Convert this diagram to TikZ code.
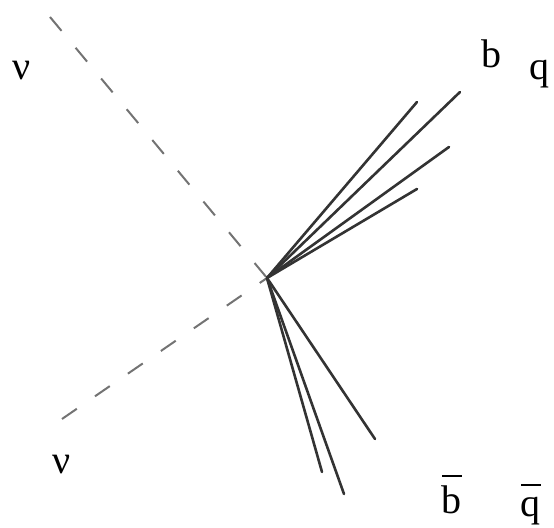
\documentclass[tikz,border=0pt]{standalone}
\usepackage{fontspec}
\setmainfont{Liberation Serif}
\usetikzlibrary{positioning}

% letter with a raised bar over it: {letter}{raise}{bar width}
\newcommand\barletter[3]{\leavevmode\rlap{\hspace{.01em}\rule[#2]{#3}{.055em}}#1}

\begin{document}
\begin{tikzpicture}[x=0.5pt, y=-0.5pt,
  jet/.style={line width=1.3pt, draw=black!80, line cap=round},
  nuline/.style={line width=1pt, draw=black!55, dash pattern=on 9pt off 11pt},
  lbl/.style={font=\fontsize{20}{24}\selectfont, inner sep=0pt, anchor=base}]

  \useasboundingbox (0,0) rectangle (554,528);

  % decay vertex
  \coordinate (vtx) at (267,278);

  % neutrino directions (dashed)
  \coordinate (nu1) at (50,17);
  \coordinate (nu2) at (62,419);
  \draw[nuline] (nu1) -- (vtx);
  \draw[nuline] (nu2) -- (vtx);

  % b / q jets, upward
  \coordinate (j1) at (417,102);
  \coordinate (j2) at (460,92);
  \coordinate (j3) at (449,147);
  \coordinate (j4) at (417,189);
  \foreach \j in {j1,j2,j3,j4}
    \draw[jet] (vtx) -- (\j);

  % anti-b / anti-q jets, downward
  \coordinate (k1) at (375,439);
  \coordinate (k2) at (322,472);
  \coordinate (k3) at (344,494);
  \foreach \k in {k1,k2,k3}
    \draw[jet] (vtx) -- (\k);

  % labels
  \node[lbl] (nuA) at (22,80) {ν};
  \node[lbl] (nuB) at (62,474) {ν};
  \node[lbl] (bq)  at (492,68) {b};
  \node[lbl] (qq)  at (540,80) {q};
  \node[lbl] (bbar) at (452,514) {\barletter{b}{0.92em}{0.48em}};
  \node[lbl] (qbar) at (531,517) {\barletter{q}{0.78em}{0.48em}};

\end{tikzpicture}
\end{document}
